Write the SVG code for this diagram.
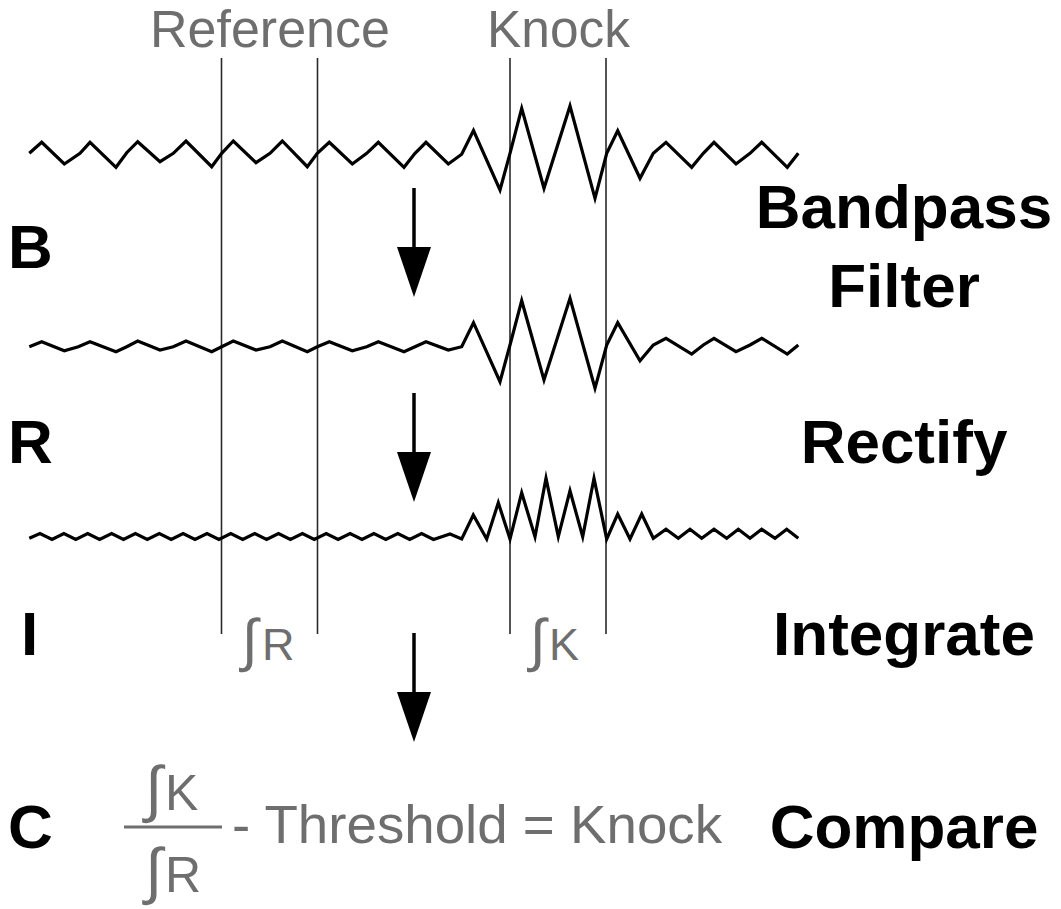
<svg xmlns="http://www.w3.org/2000/svg" width="1061" height="909" viewBox="0 0 1061 909">
<style>
.wave{fill:none;stroke:#000;stroke-width:3.2;stroke-linejoin:miter;stroke-miterlimit:10}
.vline{stroke:#2a2a2a;stroke-width:1.6}
.gray{font-family:"Liberation Sans",Arial,sans-serif;fill:#6e6e6e}
.bold{font-family:"Liberation Sans",Arial,sans-serif;font-weight:bold;fill:#000;font-size:62px}
.shaft{stroke:#000;stroke-width:3.5}
</style>
<rect width="1061" height="909" fill="#fff"/>
<g id="window-lines">
<line class="vline" x1="221.5" y1="58" x2="221.5" y2="634"/>
<line class="vline" x1="317.5" y1="58" x2="317.5" y2="634"/>
<line class="vline" x1="510" y1="58" x2="510" y2="634"/>
<line class="vline" x1="606" y1="58" x2="606" y2="634"/>
</g>
<g id="labels-top">
<text class="gray" x="150" y="47" font-size="51" textLength="240" lengthAdjust="spacingAndGlyphs">Reference</text>
<text class="gray" x="487" y="47" font-size="51" textLength="143" lengthAdjust="spacingAndGlyphs">Knock</text>
</g>
<g id="wave-raw">
<polyline class="wave" points="29.3,153.3 41.7,142.3 64.3,164 80,153.3 90,142.3 116,167.3 126.7,152.7 137.7,141.7 160,161.7 173.3,153.3 186,141 211.7,166.7 221.7,153.3 233.3,141 256,162.7 270,153.3 282.3,141 307.3,166.7 317.3,153.3 329.3,142.3 352.3,164 366.7,153.3 378.3,142.3 404,167.3 415,153.3 426,142.3 448.3,164 461.7,154.3 473.5,130.5 500,190 510,153.3 521.7,108.3 544,188.3 570,106 595,198.3 606.7,153.3 617.7,130.7 640,178.3 653.3,153.3 666,142.3 691.7,167.3 703.3,153.3 714,142.3 736,164 750,153.3 761.7,142.3 787.3,167.3 798.3,153.3"/>
</g>
<g id="wave-filtered">
<polyline class="wave" points="29.3,346.7 41.7,341.7 64.3,350.7 78.3,346.7 90,341.7 116,351.7 126.7,346.7 137.7,341 160,350 173.3,346.7 186,341 211.7,351.7 221.7,346.7 233.3,341 256,350 270,346.7 282.3,341 307.3,351.7 317.3,346.7 329.3,341.7 352.3,350.7 366.7,346.7 378.3,341.7 404,351.7 415,346.7 426,341.7 448.3,350 461.7,346.7 473.5,322.7 500,381.7 510,345 521.7,300.7 544,380 570,298.3 595,388.3 606.7,345 617.7,322.7 640,360.7 653.3,345 666,338.3 691.7,354 703.3,345 714,338.3 736,351.7 750,345 761.7,338.3 787.3,354 798.3,345"/>
</g>
<g id="wave-rectified">
<polyline class="wave" points="29.3,538.3 40,533.5 52,539.5 63.9,533.5 75.8,539.5 87.7,533.5 99.6,539.5 111.6,533.5 123.5,539.5 135.4,533.5 147.3,539.5 159.3,533.5 171.2,539.5 183.1,533.5 195,539.5 207,533.5 218.9,539.5 230.8,533.5 242.7,539.5 254.7,533.5 266.6,539.5 278.5,533.5 290.4,539.5 302.4,533.5 314.3,539.5 326.2,533.5 338.1,539.5 350.1,533.5 362,539.5 373.9,533.5 385.8,539.5 397.8,533.5 409.7,539.5 421.6,533.5 433.5,539.5 450,534 461.7,539 473.3,515 486.7,539 498.3,502.7 510,539 521.7,492.7 535,536.7 546,478.3 558.3,536.7 570,490.7 582.7,536.7 594,478.3 606.7,539 617.7,514 630,539 641.7,514 653.3,538.3 666,529.3 678.3,538.3 690,529.3 701.7,538.3 714,529.3 726.7,538.3 738.3,529.3 750,538.3 761.7,529.3 775,538.3 786.7,529.3 798.3,538.3"/>
</g>
<g id="connectors">
<line class="shaft" x1="414" y1="188" x2="414" y2="250"/>
<polygon points="397,247 431,247 414,297"/>
<line class="shaft" x1="414" y1="393" x2="414" y2="455"/>
<polygon points="397,452 431,452 414,502"/>
<line class="shaft" x1="414" y1="633" x2="414" y2="695"/>
<polygon points="397,692 431,692 414,742"/>
</g>
<g id="step-letters">
<text class="bold" x="8" y="268">B</text>
<text class="bold" x="8" y="463">R</text>
<text class="bold" x="21" y="655">I</text>
<text class="bold" x="8" y="848">C</text>
</g>
<g id="step-names">
<text class="bold" x="904" y="228" text-anchor="middle">Bandpass</text>
<text class="bold" x="904" y="307" text-anchor="middle">Filter</text>
<text class="bold" x="904" y="463" text-anchor="middle">Rectify</text>
<text class="bold" x="904" y="655" text-anchor="middle">Integrate</text>
<text class="bold" x="904" y="848" text-anchor="middle">Compare</text>
</g>
<g id="integrals">
<text class="gray" x="242" y="660" font-size="58">∫</text>
<text class="gray" x="262" y="660" font-size="45">R</text>
<text class="gray" x="530" y="660" font-size="58">∫</text>
<text class="gray" x="549" y="660" font-size="45">K</text>
</g>
<g id="formula">
<text class="gray" x="145" y="810" font-size="62">∫</text>
<text class="gray" x="165" y="810" font-size="50">K</text>
<line x1="124" y1="827" x2="222" y2="827" stroke="#6e6e6e" stroke-width="3"/>
<text class="gray" x="145" y="892" font-size="62">∫</text>
<text class="gray" x="165" y="892" font-size="50">R</text>
<text class="gray" x="232" y="843" font-size="54" textLength="490" lengthAdjust="spacingAndGlyphs">- Threshold = Knock</text>
</g>
</svg>
